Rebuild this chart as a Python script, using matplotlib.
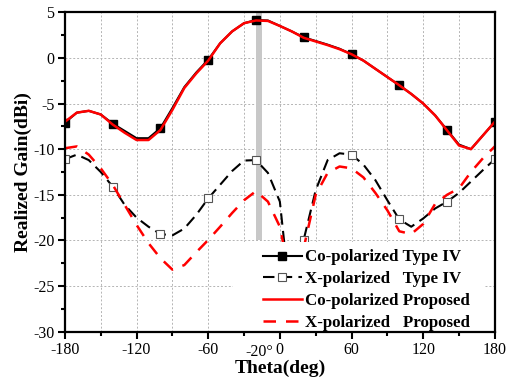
import matplotlib
matplotlib.use("Agg")
import matplotlib.pyplot as plt
from matplotlib.lines import Line2D
from matplotlib.patches import Rectangle
import numpy as np

# ---- data ----
theta = list(range(-180, 181, 10))
co_type4 = [-7.1, -6.0, -5.8, -6.2, -7.2, -8.0, -8.8, -8.8, -7.7, -5.5, -3.2, -1.6, -0.2,
            1.6, 2.9, 3.8, 4.15, 4.1, 3.5, 2.9, 2.25, 1.85, 1.45, 1.0, 0.4, -0.3, -1.2,
            -2.1, -3.0, -3.95, -5.0, -6.3, -7.9, -9.5, -10.0, -8.5, -7.0]
x_type4 = [-11.1, -10.6, -11.2, -12.5, -14.1, -16.1, -17.5, -18.5, -19.3, -19.45, -18.7,
           -17.2, -15.4, -13.9, -12.4, -11.25, -11.2, -12.6, -15.75, -28.0, -19.9, -14.5,
           -11.2, -10.45, -10.6, -11.7, -13.4, -15.6, -17.7, -18.5, -17.6, -16.5, -15.75,
           -14.8, -13.55, -12.3, -11.1]
co_prop = [-7.0, -6.0, -5.8, -6.2, -7.3, -8.2, -9.0, -9.0, -7.9, -5.7, -3.3, -1.7, -0.3,
           1.6, 2.9, 3.8, 4.1, 4.05, 3.5, 2.9, 2.2, 1.8, 1.4, 0.95, 0.4, -0.3, -1.2,
           -2.1, -3.0, -3.95, -5.0, -6.3, -7.95, -9.6, -10.0, -8.5, -7.0]
x_prop = [-9.9, -9.7, -10.6, -12.1, -13.9, -16.1, -18.3, -20.3, -21.95, -23.2, -22.7,
          -21.3, -19.95, -18.5, -17.0, -15.6, -14.6, -15.75, -18.5, -25.0, -20.8, -15.0,
          -12.6, -11.9, -12.1, -13.1, -14.8, -16.7, -19.0, -19.3, -18.2, -16.0, -15.0,
          -14.3, -12.5, -11.0, -9.7]
labels = ["Co-polarized Type IV", "X-polarized   Type IV",
          "Co-polarized Proposed", "X-polarized   Proposed"]
x_ticks = [-180, -120, -60, 0, 60, 120, 180]
y_ticks = [-30, -25, -20, -15, -10, -5, 0, 5]
highlight_center = -17.5
highlight_width = 5
highlight_low = -20
highlight_high = 5
highlight_label = "-20\u00b0"

plt.rcParams['font.family'] = ['Liberation Serif', 'DejaVu Serif']
plt.rcParams['axes.unicode_minus'] = False

fig = plt.figure(figsize=(5.07, 3.83), dpi=100)
ax = fig.add_axes([0.128, 0.134, 0.848, 0.834])

ax.bar(highlight_center, highlight_high - highlight_low, bottom=highlight_low,
       width=highlight_width, color='#c8c8c8', zorder=1.5)

ax.plot(theta, co_type4, color='black', lw=1.5, marker='s', ms=5.5,
        mfc='black', mec='black', markevery=4, zorder=3)
ax.plot(theta, x_type4, color='black', lw=1.5, dashes=(5.5, 3), marker='s', ms=6,
        mfc='white', mec='#555555', mew=0.8, markevery=4, zorder=3)
ax.plot(theta, co_prop, color='#ff0000', lw=1.8, zorder=4)
ax.plot(theta, x_prop, color='#ff0000', lw=1.8, dashes=(5, 4), zorder=4)

ax.set_xlim(-180, 180)
ax.set_ylim(-30, 5)
ax.set_xticks(x_ticks)
ax.set_xticks(np.arange(-150, 180, 60), minor=True)
ax.set_yticks(y_ticks)
ax.set_yticks(np.arange(-27.5, 5, 5), minor=True)
ax.tick_params(axis='both', which='major', direction='out', length=5, width=1.5,
               labelsize=11.5, top=False, right=False, pad=2.5)
ax.tick_params(axis='both', which='minor', direction='out', length=3, width=1.5,
               top=False, right=False)
for s in ax.spines.values():
    s.set_linewidth(1.6)
    s.set_zorder(7)

ax.grid(True, which='both', axis='x', color='#b4b4b4', ls=(0, (2, 2)), lw=0.7, zorder=0)
ax.grid(True, which='major', axis='y', color='#b4b4b4', ls=(0, (2, 2)), lw=0.7, zorder=0)
ax.set_axisbelow(True)

ax.set_xlabel("Theta(deg)", fontsize=14, fontweight='bold', labelpad=1)
ax.set_ylabel("Realized Gain(dBi)", fontsize=14, fontweight='bold', labelpad=1)

ax.text(highlight_center, -0.04, highlight_label, transform=ax.get_xaxis_transform(),
        ha='center', va='top', fontsize=11.5)

# white box behind legend
ax.add_patch(Rectangle((0.391, 0.0), 0.586, 0.281, transform=ax.transAxes,
                       facecolor='white', edgecolor='none', zorder=5))

handles = [
    Line2D([], [], color='black', lw=1.5, marker='s', ms=5.5, mfc='black', mec='black'),
    Line2D([], [], color='black', lw=1.5, dashes=(5.5, 3), marker='s', ms=6, mfc='white',
           mec='#555555', mew=0.8),
    Line2D([], [], color='#ff0000', lw=1.8),
    Line2D([], [], color='#ff0000', lw=1.8, dashes=(5, 4)),
]
leg = ax.legend(handles, labels, loc='lower left', bbox_to_anchor=(0.46, 0.003),
                frameon=False, borderpad=0, borderaxespad=0, handlelength=2.3,
                handletextpad=0.2, labelspacing=0.34, numpoints=1,
                prop={'weight': 'bold', 'size': 12.2})
leg.set_zorder(6)

fig.savefig("out.png", dpi=100)
